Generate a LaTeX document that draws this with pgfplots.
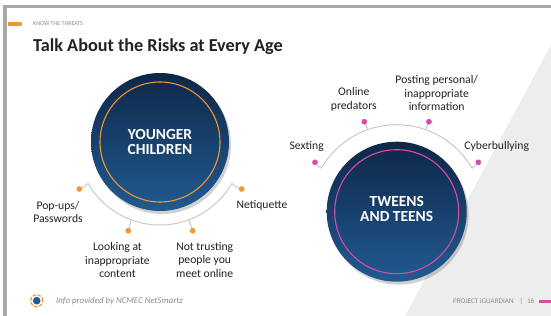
\documentclass[border=0pt]{standalone}
\usepackage{fontspec}
\setmainfont{Carlito}
\usepackage{pgfplots}
\pgfplotsset{compat=1.18}
\definecolor{orng}{HTML}{F2962F}
\definecolor{pnk}{HTML}{D44EA2}
\definecolor{navyd}{HTML}{0E2747}
\definecolor{navym}{HTML}{1A4A7C}
\definecolor{navyl}{HTML}{215A92}
\definecolor{arcg}{HTML}{C9C9C9}
\definecolor{frameg}{HTML}{A8A8A8}
\definecolor{trig}{HTML}{EDEDED}
\definecolor{txt}{HTML}{222222}
\definecolor{foot}{HTML}{8C8C8C}
\begin{document}
\begin{tikzpicture}
\begin{axis}[scale only axis, width=551bp, height=316bp,
  xmin=0, xmax=551, ymin=0, ymax=316, y dir=reverse,
  hide axis, clip=false]
% background
\fill[white] (axis cs:0,0) rectangle (axis cs:551,316);
% right light triangle
\addplot[draw=none, fill=trig] coordinates {(551,45) (551,316) (405,316) (551,45)};
% frame
\fill[frameg] (axis cs:3,5) rectangle (axis cs:551,8);
\fill[frameg] (axis cs:3,5) rectangle (axis cs:7,316);
% header
\fill[orng] (axis cs:8,21.7) rectangle (axis cs:21.7,26);
\node[anchor=west, inner sep=0pt, text=foot, font=\fontsize{6}{7}\selectfont] at (axis cs:33,24) {KNOW THE THREATS};
\node[anchor=base west, inner sep=0pt, text=txt, font=\fontsize{18.3}{20}\selectfont\bfseries] at (axis cs:33,51) {Talk About the Risks at Every Age};

% left circle
\fill[black, opacity=0.18] (axis cs:162,145) circle[radius=69bp];
\shade[top color=navyd, middle color=navym, bottom color=navyl] (axis cs:160,142) circle[radius=69bp];
\draw[orng, line width=1.1pt] (axis cs:160,142) circle[radius=60bp];
\node[align=center, text=white, font=\fontsize{15.5}{16}\selectfont\bfseries] at (axis cs:160,142) {YOUNGER\\CHILDREN};
\draw[arcg, line width=1pt] (axis cs:88.1,183.5) arc[start angle=210, end angle=330, radius=83bp];
\addplot[arcg, line width=1pt] coordinates {(88.1,183.5) (84,187) (79.3,189)};
\addplot[arcg, line width=1pt] coordinates {(231.9,183.5) (236,187) (241.7,189)};
\addplot[arcg, line width=1pt] coordinates {(131,219.8) (128.3,230.7)};
\addplot[arcg, line width=1pt] coordinates {(189,219.8) (192.7,230.7)};
\addplot[only marks, mark=*, mark size=2.6pt, color=orng] coordinates {(79.3,189) (128.3,230.7) (192.7,230.7) (241.7,189)};
\node[align=center, text=txt, font=\fontsize{11.7}{13.3}\selectfont] at (axis cs:58,212) {Pop-ups/\\Passwords};
\node[align=center, text=txt, font=\fontsize{11.7}{13.3}\selectfont] at (axis cs:262,205) {Netiquette};
\node[align=center, text=txt, font=\fontsize{11.7}{13.3}\selectfont] at (axis cs:117.5,260) {Looking at\\inappropriate\\content};
\node[align=center, text=txt, font=\fontsize{11.7}{13.3}\selectfont] at (axis cs:204.7,260) {Not trusting\\people you\\meet online};

% right circle
\fill[black, opacity=0.18] (axis cs:398.7,214.7) circle[radius=70bp];
\shade[top color=navyd, middle color=navym, bottom color=navyl] (axis cs:396.7,211.7) circle[radius=70bp];
\draw[pnk, line width=1.1pt] (axis cs:396.7,211.7) circle[radius=62bp];
\node[align=center, text=white, font=\fontsize{15.5}{16}\selectfont\bfseries] at (axis cs:396.7,209) {TWEENS\\AND TEENS};
\draw[arcg, line width=1pt] (axis cs:472,168.2) arc[start angle=30, end angle=150, radius=87bp];
\addplot[arcg, line width=1pt] coordinates {(321.4,168.2) (318,166) (315,162.3)};
\addplot[arcg, line width=1pt] coordinates {(472,168.2) (475,166) (478.3,162.3)};
\addplot[arcg, line width=1pt] coordinates {(367.7,129.7) (364.3,121.7)};
\addplot[arcg, line width=1pt] coordinates {(425.7,129.7) (429,121.7)};
\addplot[only marks, mark=*, mark size=2.6pt, color=pnk] coordinates {(315,162.3) (364.3,121.7) (429,121.7) (478.3,162.3)};
\node[align=center, text=txt, font=\fontsize{11.7}{13.3}\selectfont] at (axis cs:306.7,146) {Sexting};
\node[align=center, text=txt, font=\fontsize{11.7}{13.3}\selectfont] at (axis cs:353.8,99.5) {Online\\predators};
\node[align=center, text=txt, font=\fontsize{11.7}{13.3}\selectfont] at (axis cs:436.7,93) {Posting personal/\\inappropriate\\information};
\node[align=center, text=txt, font=\fontsize{11.7}{13.3}\selectfont] at (axis cs:496.7,146) {Cyberbullying};

% footer
\draw[orng, line width=1.2pt, dash pattern=on 3.5pt off 1.6pt] (axis cs:36.7,300.7) circle[radius=6bp];
\fill[navyl] (axis cs:36.7,300.7) circle[radius=3.8bp];
\node[anchor=west, inner sep=0pt, text=foot, font=\fontsize{8.9}{10}\selectfont\itshape] at (axis cs:56,301) {Info provided by NCMEC NetSmartz};
\node[anchor=west, inner sep=0pt, text=foot, font=\fontsize{7.2}{8}\selectfont] at (axis cs:453,301) {PROJECT iGUARDIAN\hspace{6pt}|\hspace{4pt}16};
\fill[pnk] (axis cs:539,299.5) rectangle (axis cs:551,302.5);
\end{axis}
\end{tikzpicture}
\end{document}
